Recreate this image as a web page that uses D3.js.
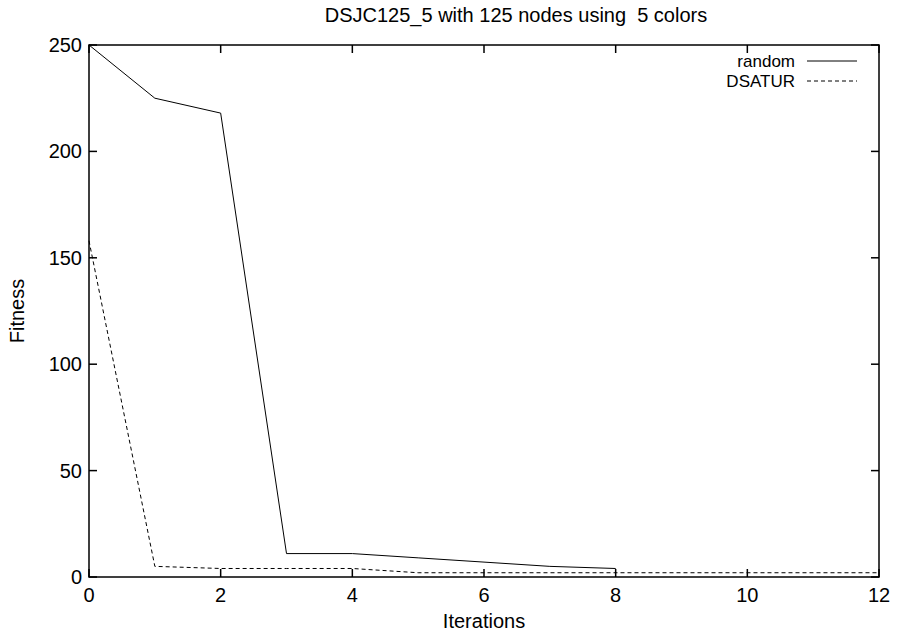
<!DOCTYPE html>
<html lang="en">
<head>
<meta charset="UTF-8">
<title>DSJC125_5 fitness</title>
<script src="https://d3js.org/d3.v7.min.js"></script>
<style>
    body { margin: 0; background: #fff; }
    svg text { font-family: 'Liberation Sans', Arial, sans-serif; fill: #000; }
</style>
</head>
<body>
<svg></svg>
<script>
    const iterations = [0, 1, 2, 3, 4, 5, 6, 7, 8, 9, 10, 11, 12];
    const randomFit = [250, 225, 218, 11, 11, 9, 7, 5, 4];
    const dsaturFit = [158, 5, 4, 4, 4, 2, 2, 2, 2, 2, 2, 2, 2];
    const xTicks = [0, 2, 4, 6, 8, 10, 12];
    const yTicks = [0, 50, 100, 150, 200, 250];

    const width = 900, height = 634;
    const m = { top: 45, right: 21, bottom: 57, left: 89 };
    const svg = d3.select("svg").attr("width", width).attr("height", height);

    const x = d3.scaleLinear().domain([0, 12]).range([m.left, width - m.right]);
    const y = d3.scaleLinear().domain([0, 250]).range([height - m.bottom, m.top]);

    const fs = 20;
    const tickLen = 8;

    // frame
    svg.append("rect")
        .attr("x", x(0)).attr("y", y(250))
        .attr("width", x(12) - x(0)).attr("height", y(0) - y(250))
        .attr("fill", "none").attr("stroke", "#000").attr("stroke-width", 1.5);

    // ticks on all four sides, pointing in
    const ticks = svg.append("g").attr("stroke", "#000").attr("stroke-width", 1.5);
    xTicks.forEach(t => {
        ticks.append("line").attr("x1", x(t)).attr("x2", x(t)).attr("y1", y(0)).attr("y2", y(0) - tickLen);
        ticks.append("line").attr("x1", x(t)).attr("x2", x(t)).attr("y1", y(250)).attr("y2", y(250) + tickLen);
    });
    yTicks.forEach(t => {
        ticks.append("line").attr("x1", x(0)).attr("x2", x(0) + tickLen).attr("y1", y(t)).attr("y2", y(t));
        ticks.append("line").attr("x1", x(12)).attr("x2", x(12) - tickLen).attr("y1", y(t)).attr("y2", y(t));
    });

    svg.selectAll("text.xt").data(xTicks).enter().append("text")
        .attr("x", d => x(d)).attr("y", y(0) + 25)
        .attr("text-anchor", "middle").attr("font-size", fs).text(d => d);
    svg.selectAll("text.yt").data(yTicks).enter().append("text")
        .attr("x", x(0) - 7).attr("y", d => y(d) + 7)
        .attr("text-anchor", "end").attr("font-size", fs).text(d => d);

    // labels
    svg.append("text").attr("x", (x(0) + x(12)) / 2).attr("y", 628)
        .attr("text-anchor", "middle").attr("font-size", fs).text("Iterations");
    svg.append("text").attr("transform", `translate(24,${(y(0) + y(250)) / 2}) rotate(-90)`)
        .attr("text-anchor", "middle").attr("font-size", fs).text("Fitness");
    svg.append("text").attr("x", 516).attr("y", 22)
        .attr("text-anchor", "middle").attr("font-size", fs)
        .style("white-space", "pre").text("DSJC125_5 with 125 nodes using  5 colors");

    // series
    const line = d3.line().x((d, i) => x(iterations[i])).y(d => y(d));
    svg.append("path").datum(randomFit).attr("d", line)
        .attr("fill", "none").attr("stroke", "#000").attr("stroke-width", 1);
    svg.append("path").datum(dsaturFit).attr("d", line)
        .attr("fill", "none").attr("stroke", "#000").attr("stroke-width", 1)
        .attr("stroke-dasharray", "4,3");

    // legend
    const legend = [
        { name: "random", dash: null },
        { name: "DSATUR", dash: "4,3" }
    ];
    legend.forEach((l, i) => {
        const ly = 61 + i * 20;
        svg.append("text").attr("x", 795).attr("y", ly + 6)
            .attr("text-anchor", "end").attr("font-size", 17).text(l.name);
        svg.append("line").attr("x1", 807).attr("x2", 857).attr("y1", ly).attr("y2", ly)
            .attr("stroke", "#000").attr("stroke-width", 1)
            .attr("stroke-dasharray", l.dash);
    });
</script>
</body>
</html>
